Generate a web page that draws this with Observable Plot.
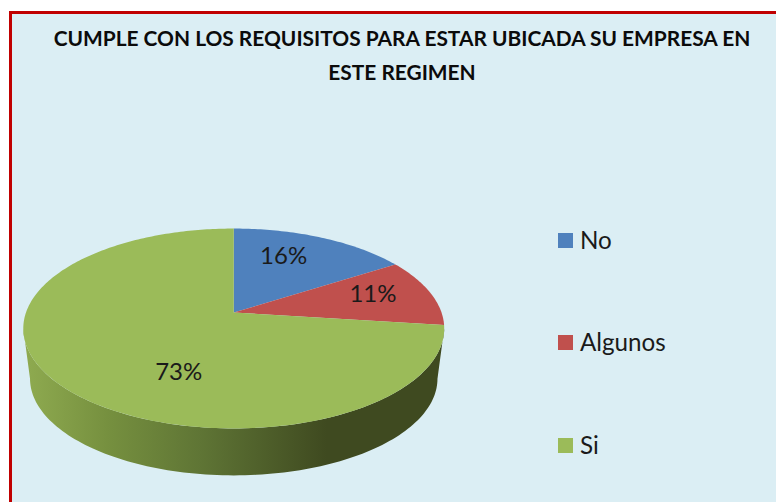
<!DOCTYPE html>
<html>
<head>
<meta charset="utf-8">
<script src="https://cdn.jsdelivr.net/npm/d3@7"></script>
<script src="https://cdn.jsdelivr.net/npm/@observablehq/plot@0.6"></script>
<style>
  html, body { margin: 0; padding: 0; background: #fff; width: 776px; height: 502px; overflow: hidden; }
  #panel { position: absolute; left: 9px; top: 11px; width: 767px; height: 491px; background: #DBEEF4;
           border-left: 3px solid #C00000; border-top: 3px solid #C00000; box-sizing: border-box; }
  #title { position: absolute; left: 0; top: 21px; width: 804px; text-align: center; margin: 0;
           font: 700 20.9px/34px Lato, sans-serif; color: #0b0b0b; }
  #chart { position: absolute; left: 0; top: 0; }
  #chart svg { display: block; background: transparent; }
  .key { position: absolute; left: 558px; font: 400 24.2px/28px Lato, sans-serif; color: #1a1a1a; }
  .key i { position: absolute; left: 0; top: 7px; width: 15px; height: 15px; }
  .key span { position: absolute; left: 22px; top: 0; white-space: nowrap; }
</style>
</head>
<body>
<div id="panel"></div>
<h1 id="title">CUMPLE CON LOS REQUISITOS PARA ESTAR UBICADA SU EMPRESA EN<br>ESTE REGIMEN</h1>
<div id="chart"></div>
<script>
const categories = ["No", "Algunos", "Si"];
const percents = [16, 11, 73];
const colors = ["#4F81BD", "#C0504D", "#9BBB59"];

// Perspective of the tilted disc: u is across, v runs toward the viewer.
const tilt = 0.16;
const wallShrink = 0.968;
const wallDrop = 0.52;
const project = (angle, r = 1, shrink = 1, drop = 0) => {
  const u = r * Math.sin(angle), v = -r * Math.cos(angle), d = 1 - tilt * v;
  return {x: shrink * u / d, y: drop + shrink * v / d};
};

const pie = d3.pie().sort(null).value((d) => d)(percents);
const slices = pie.flatMap((s, i) => {
  const n = Math.max(2, Math.round((s.endAngle - s.startAngle) * 60));
  const rim = d3.range(n + 1).map((k) =>
    project(s.startAngle + (s.endAngle - s.startAngle) * k / n));
  return [{x: 0, y: 0}, ...rim, {x: 0, y: 0}].map((p) => ({...p, category: categories[i]}));
});

// Outer wall: the near half of the rim, from one widest point to the other.
const start = Math.acos(-tilt), end = 2 * Math.PI - start;
const sweep = d3.range(121).map((k) => start + (end - start) * k / 120);
const wall = [
  ...sweep.map((a) => project(a)),
  ...sweep.slice().reverse().map((a) => project(a, 1, wallShrink, wallDrop))
];

// Where each percentage sits, in disc units.
const labelSpots = [[0.24, -0.58], [0.67, -0.19], [-0.265, 0.61]];
const labels = categories.map((c, i) => ({
  text: percents[i] + "%",
  x: labelSpots[i][0],
  y: labelSpots[i][1]
}));

const wallGradient = () => {
  const defs = d3.create("svg:defs");
  const g = defs.append("linearGradient").attr("id", "wallShade")
    .attr("x1", 0).attr("x2", 1).attr("y1", 0).attr("y2", 0);
  [[0, "#8FAB50"], [0.2, "#76903F"], [0.42, "#5F7535"], [0.72, "#3F4A20"], [1, "#3F4A20"]]
    .forEach(([o, c]) => g.append("stop").attr("offset", o).attr("stop-color", c));
  return defs.node();
};

const plot = Plot.plot({
  width: 776,
  height: 502,
  margin: 0,
  style: {background: "transparent", overflow: "visible"},
  x: {axis: null, domain: [-1, 1], range: [25.5, 441]},
  y: {axis: null, domain: [-1, 1], range: [214.6, 409.4]},
  color: {domain: categories, range: colors},
  marks: [
    wallGradient,
    Plot.line(wall, {x: "x", y: "y", fill: "url(#wallShade)", stroke: "none"}),
    Plot.line(slices, {x: "x", y: "y", fill: "category", stroke: "none"}),
    Plot.text(labels, {
      x: "x", y: "y", text: "text", fill: "#1a1a1a",
      fontFamily: "Lato, sans-serif", fontSize: 24
    })
  ]
});
document.getElementById("chart").append(plot);

const legendTops = [226, 328, 431];
categories.forEach((c, i) => {
  const row = document.createElement("div");
  row.className = "key";
  row.style.top = legendTops[i] + "px";
  row.innerHTML = `<i style="background:${colors[i]}"></i><span>${c}</span>`;
  document.body.append(row);
});
</script>
</body>
</html>
